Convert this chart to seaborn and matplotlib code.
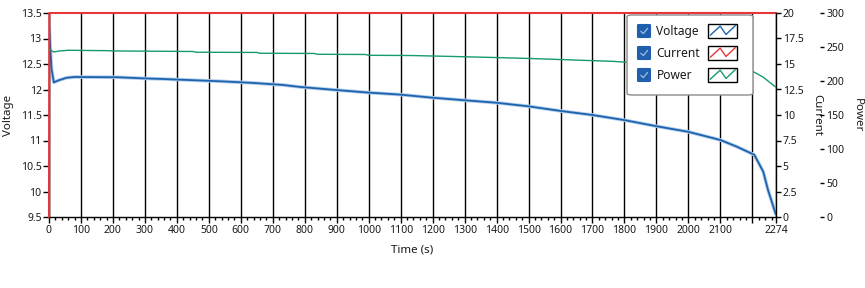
import matplotlib
matplotlib.use("Agg")
import matplotlib.pyplot as plt
import numpy as np
import pandas as pd
import seaborn as sns
from matplotlib.patches import FancyBboxPatch
from matplotlib.lines import Line2D
from matplotlib.ticker import FuncFormatter, MultipleLocator

# ---------------- data ----------------
volt_time = [0, 3, 8, 15, 30, 55, 80, 215, 290, 360, 420, 540, 635, 730, 785,
             898, 998, 1098, 1198, 1298, 1400, 1500, 1600, 1700, 1800, 1900,
             2000, 2100, 2151, 2206, 2234, 2249, 2271, 2274]
voltage = [13.3, 12.9, 12.4, 12.14, 12.18, 12.23, 12.245, 12.24, 12.22, 12.205,
           12.19, 12.16, 12.13, 12.09, 12.05, 11.99, 11.94, 11.90, 11.84, 11.79,
           11.74, 11.67, 11.58, 11.50, 11.40, 11.28, 11.17, 11.01, 10.88, 10.72,
           10.39, 10.03, 9.60, 9.55]

power_time = [0, 5, 15, 30, 60, 180, 200, 450, 460, 650, 660, 830, 840, 990,
              1000, 1130, 1260, 1380, 1490, 1580, 1670, 1760, 1810, 1900, 2000,
              2100, 2170, 2203, 2233, 2274]
power = [248.5, 245.5, 242.6, 244.0, 245.2, 244.6, 244.2, 243.4, 242.3, 242.0,
         240.8, 240.5, 239.3, 239.0, 237.8, 237.5, 236.1, 234.7, 233.3, 231.9,
         230.4, 229.0, 227.5, 225.5, 222.5, 219.0, 216.0, 213.7, 206.0, 190.7]

current_time = [0, 1, 2274]
current = [0, 20, 20]

x_ticks = list(range(0, 2201, 100)) + [2274]
x_ticklabels = [str(t) for t in range(0, 2101, 100)] + ["", "2274"]
volt_ticks = [9.5, 10, 10.5, 11, 11.5, 12, 12.5, 13, 13.5]
current_ticks = [0, 2.5, 5, 7.5, 10, 12.5, 15, 17.5, 20]
power_ticks = [0, 50, 100, 150, 200, 250, 300]

series_names = ["Voltage", "Current", "Power"]
series_colors = ["#1d63ae", "#e8353a", "#169b6b"]

# ---------------- styling ----------------
sns.set_theme(style="white")
plt.rcParams["font.family"] = ["Noto Sans", "DejaVu Sans"]
TXT = "#1a1a1a"

W, H = 865, 288
fig = plt.figure(figsize=(W / 100, H / 100), dpi=100)
ax = fig.add_axes([49 / W, 1 - 217 / H, 727 / W, 204 / H])
ax2 = ax.twinx()
ax3 = ax.twinx()

vdf = pd.DataFrame({"t": volt_time, "v": voltage})
pdf = pd.DataFrame({"t": power_time, "p": power})
cdf = pd.DataFrame({"t": current_time, "c": current})

# voltage (with light halo)
sns.lineplot(data=vdf, x="t", y="v", ax=ax, color="#b3cfec", lw=2.6, legend=False)
sns.lineplot(data=vdf, x="t", y="v", ax=ax, color=series_colors[0], lw=1.3, legend=False)
sns.lineplot(data=cdf, x="t", y="c", ax=ax2, color=series_colors[1], lw=1.5,
             legend=False, clip_on=False, zorder=5)
sns.lineplot(data=pdf, x="t", y="p", ax=ax3, color=series_colors[2], lw=1.0, legend=False)

ax.set_xlim(0, 2274)
ax.set_ylim(9.5, 13.5)
ax2.set_ylim(0, 20)
ax3.set_ylim(0, 300)

fmt = FuncFormatter(lambda v, p: f"{v:g}")

ax.set_xticks(x_ticks)
ax.set_xticklabels(x_ticklabels)
ax.xaxis.set_minor_locator(MultipleLocator(20))
ax.set_yticks(volt_ticks)
ax.yaxis.set_major_formatter(fmt)
ax2.set_yticks(current_ticks)
ax2.yaxis.set_major_formatter(fmt)
ax3.set_yticks(power_ticks)
ax3.yaxis.set_major_formatter(fmt)

ax.grid(False)
ax2.grid(False)
ax3.grid(False)
ax.xaxis.grid(True, which="major", color="black", lw=1.0)
ax.set_axisbelow(True)

ax.tick_params(axis="x", which="major", direction="out", length=4, width=1,
               color="black", labelsize=7.5, labelcolor=TXT, pad=2, bottom=True)
ax.tick_params(axis="x", which="minor", direction="out", length=2.4, width=1,
               color="black", bottom=True)
ax.tick_params(axis="y", direction="out", length=4.3, width=1, color="black",
               labelsize=7.5, labelcolor=TXT, pad=1, left=True)
ax2.tick_params(axis="y", direction="out", length=3.8, width=1, color="black",
                labelsize=7.5, labelcolor=TXT, pad=1, right=True)
ax3.tick_params(axis="y", direction="out", length=3.2, width=1, color="black",
                labelsize=7.5, labelcolor=TXT, pad=1.2, right=True)

for s in ax.spines.values():
    s.set_color("black")
    s.set_linewidth(1)
ax.spines["top"].set_visible(False)
ax.spines["right"].set_visible(False)
for s in ax2.spines.values():
    s.set_visible(False)
ax2.spines["right"].set_visible(True)
ax2.spines["right"].set_color("black")
ax2.spines["right"].set_linewidth(1)
ax2.spines["right"].set_zorder(6)
for s in ax3.spines.values():
    s.set_visible(False)
ax3.spines["right"].set_position(("outward", 44 * 0.72))

# axis labels
ax.set_xlabel("Time (s)", fontsize=8.3, color=TXT)
ax.xaxis.set_label_coords(0.5, (217 - 250) / 204)
ax.xaxis.label.set_va("center")
ax.set_ylabel("Voltage", fontsize=8.3, color=TXT)
ax.yaxis.set_label_coords((8 - 49) / 727, 0.5)
ax.yaxis.label.set_va("center")
ax2.set_ylabel("Current", fontsize=8.3, color=TXT, rotation=270)
ax2.yaxis.set_label_coords((817 - 49) / 727, 0.5)
ax2.yaxis.label.set_va("center")
ax2.yaxis.label.set_ha("center")
ax3.set_ylabel("Power", fontsize=8.3, color=TXT, rotation=270)
ax3.yaxis.set_label_coords((857 - 49) / 727, 0.5)
ax3.yaxis.label.set_va("center")
ax3.yaxis.label.set_ha("center")

# ---------------- custom legend (LabVIEW style) ----------------
def fx(px):
    return px / W

def fy(py_top):
    return 1 - py_top / H

box = FancyBboxPatch((fx(627), fy(95)), 126 / W, 80 / H,
                     boxstyle="round,pad=0,rounding_size=0.006",
                     transform=fig.transFigure, facecolor="white",
                     edgecolor="#8c8c8c", lw=1.0, zorder=10)
fig.add_artist(box)

rows = [31, 53, 75]
zig = [(0.08, 0.2), (0.42, 0.85), (0.62, 0.25), (0.95, 0.9)]
for name, col, yc in zip(series_names, series_colors, rows):
    cb = FancyBboxPatch((fx(637.5), fy(yc + 6.5)), 13 / W, 13 / H,
                        boxstyle="round,pad=0,rounding_size=0.002",
                        transform=fig.transFigure, facecolor="#1f5fae",
                        edgecolor="#1f5fae", lw=0.8, zorder=11)
    fig.add_artist(cb)
    chk = Line2D([fx(640.8), fx(643.3), fx(647.6)],
                 [fy(yc + 0.2), fy(yc + 2.6), fy(yc - 2.6)],
                 transform=fig.transFigure, color="#9fbde3", lw=0.9, zorder=12)
    fig.add_artist(chk)
    fig.text(fx(656.5), fy(yc + 0.5), name, fontsize=8.6, color=TXT,
             va="center", ha="left", zorder=12)
    ib = FancyBboxPatch((fx(708), fy(yc + 7)), 29 / W, 14 / H,
                        boxstyle="square,pad=0", transform=fig.transFigure,
                        facecolor="white", edgecolor="black", lw=1.0, zorder=11)
    fig.add_artist(ib)
    xs = [fx(708 + 29 * a) for a, b in zig]
    ys = [fy(yc + 7 - 14 * b) for a, b in zig]
    fig.add_artist(Line2D(xs, ys, transform=fig.transFigure, color=col,
                          lw=1.0, zorder=12))

fig.savefig("out.png", dpi=100, facecolor="white")
